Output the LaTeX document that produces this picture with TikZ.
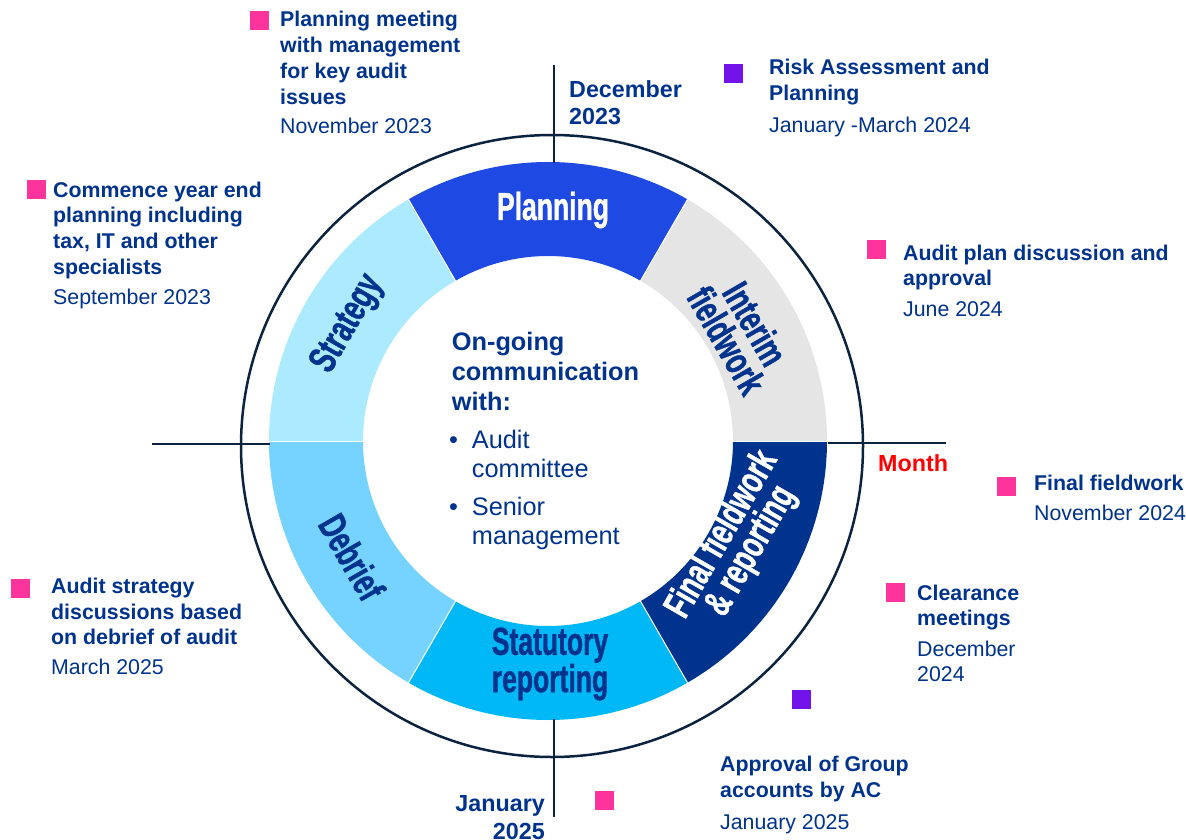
\documentclass[tikz,border=0pt]{standalone}
\usepackage{fontspec}
\setmainfont{Liberation Sans}
\newfontfamily\condfont[FakeStretch=0.68,FakeBold=1]{Liberation Sans}
\definecolor{kblue}{HTML}{00338D}
\definecolor{kpink}{HTML}{FD349C}
\definecolor{kpurple}{HTML}{7213EA}
\definecolor{kaxis}{HTML}{0C2340}
\definecolor{cplan}{HTML}{1E49E2}
\definecolor{cinter}{HTML}{E5E5E5}
\definecolor{cfinal}{HTML}{00338D}
\definecolor{cstat}{HTML}{00B8F5}
\definecolor{cdeb}{HTML}{76D2FF}
\definecolor{cstrat}{HTML}{ACEAFF}
\begin{document}
\begin{tikzpicture}[x=1pt,y=-1pt,
  axisline/.style={draw=kaxis, line width=2pt},
  title/.style={anchor=base west, align=left, text=kblue, inner sep=0pt,
    font=\fontsize{21.33}{25.8}\selectfont\bfseries},
  datetxt/.style={anchor=base west, align=left, text=kblue, inner sep=0pt,
    font=\fontsize{21.33}{25}\selectfont},
  sq/.style={fill=kpink, minimum size=19pt, inner sep=0pt, anchor=north west},
  axislbl/.style={anchor=base west, align=left, text=kblue, inner sep=0pt,
    font=\fontsize{23.3}{28}\selectfont\bfseries},
  seglbl/.style={align=center, inner sep=0pt,
    font=\fontsize{39}{33}\selectfont\condfont\bfseries},
  midbold/.style={anchor=base west, align=left, text=kblue, inner sep=0pt,
    font=\fontsize{25.33}{30.4}\selectfont\bfseries},
  midreg/.style={anchor=base west, align=left, text=kblue, inner sep=0pt,
    font=\fontsize{25.33}{29.5}\selectfont}
]
\useasboundingbox[fill=white] (0,0) rectangle (1186,840);

% ring segments
\begin{scope}[shift={(548,441)}]
  \fill[cplan]  (60:279pt) arc[start angle=60,end angle=120,radius=279pt] -- (120:185pt) arc[start angle=120,end angle=60,radius=185pt] -- cycle;
  \fill[cstrat] (120:279pt) arc[start angle=120,end angle=180,radius=279pt] -- (180:185pt) arc[start angle=180,end angle=120,radius=185pt] -- cycle;
  \fill[cdeb]   (180:279pt) arc[start angle=180,end angle=240,radius=279pt] -- (240:185pt) arc[start angle=240,end angle=180,radius=185pt] -- cycle;
  \fill[cstat]  (240:279pt) arc[start angle=240,end angle=300,radius=279pt] -- (300:185pt) arc[start angle=300,end angle=240,radius=185pt] -- cycle;
  \fill[cfinal] (300:279pt) arc[start angle=300,end angle=360,radius=279pt] -- (0:185pt) arc[start angle=360,end angle=300,radius=185pt] -- cycle;
  \fill[cinter] (0:279pt) arc[start angle=0,end angle=60,radius=279pt] -- (60:185pt) arc[start angle=60,end angle=0,radius=185pt] -- cycle;
  \foreach \a in {0,60,120,180,240,300} \draw[white, line width=1pt] (\a:185pt) -- (\a:279pt);
\end{scope}

% outer circle and axes
\draw[draw=kaxis, line width=2.5pt] (552,446) circle[radius=311pt];
\draw[axisline] (554,65) -- (554,163);
\draw[axisline] (554,719) -- (554,817);
\draw[axisline] (152,444) -- (270,444);
\draw[axisline] (828,443) -- (946,443);

% segment labels
\node[seglbl, text=white] (lp) at (553,210) {Planning};
\node[seglbl, text=kblue, rotate=-60] (li) at (741,332) {Interim\\fieldwork};
\node[seglbl, text=white, rotate=60] (lf) at (737,543) {Final fieldwork\\\& reporting};
\node[seglbl, text=kblue] (ls) at (550,664) {Statutory\\reporting};
\node[seglbl, text=kblue, rotate=-60] (ld) at (352,557) {Debrief};
\node[seglbl, text=kblue, rotate=60] (lst) at (348,324) {Strategy};

% centre text (base anchor = baseline of last line)
\node[midbold] (og) at (451.7,410.8) {On-going\\communication\\with:};
\node[midreg] (b1) at (449,448.3) {•};
\node[midreg] (i1) at (471.7,477.8) {Audit\\committee};
\node[midreg] (b2) at (449,515) {•};
\node[midreg] (i2) at (471.7,544.5) {Senior\\management};

% axis labels
\node[axislbl] (dec) at (569,125) {December\\2023};
\node[axislbl, text=red] (month) at (878,471.7) {Month};
\node[axislbl, anchor=base east, align=right] (jan) at (545,839.7) {January\\2025};

% events
\node[sq] (s1) at (250,11) {};
\node[title] (t1) at (280,104.4) {Planning meeting\\with management\\for key audit\\issues};
\node[datetxt] (d1) at (280,134) {November 2023};

\node[sq] (s2) at (27,180) {};
\node[title] (t2) at (53,274.4) {Commence year end\\planning including\\tax, IT and other\\specialists};
\node[datetxt] (d2) at (53,304) {September 2023};

\node[sq, fill=kpurple] (s3) at (724,64) {};
\node[title] (t3) at (769,100.8) {Risk Assessment and\\Planning};
\node[datetxt] (d3) at (769,132.7) {January -March 2024};

\node[sq] (s4) at (867,240) {};
\node[title] (t4) at (903,285.8) {Audit plan discussion and\\approval};
\node[datetxt] (d4) at (903,316.7) {June 2024};

\node[sq] (s5) at (997,477) {};
\node[title] (t5) at (1034,490.7) {Final fieldwork};
\node[datetxt] (d5) at (1034,520.7) {November 2024};

\node[sq] (s6) at (886,583) {};
\node[title] (t6) at (917,625.8) {Clearance\\meetings};
\node[datetxt] (d6) at (917,681.7) {December\\2024};

\node[sq] (s7) at (11,579) {};
\node[title] (t7) at (51,644.9) {Audit strategy\\discussions based\\on debrief of audit};
\node[datetxt] (d7) at (51,674.3) {March 2025};

\node[sq, fill=kpurple] (s8) at (792,690) {};
\node[title] (t8) at (720,797.5) {Approval of Group\\accounts by AC};
\node[datetxt] (d8) at (720,829.3) {January 2025};
\node[sq] (s9) at (595,791) {};
\end{tikzpicture}
\end{document}
